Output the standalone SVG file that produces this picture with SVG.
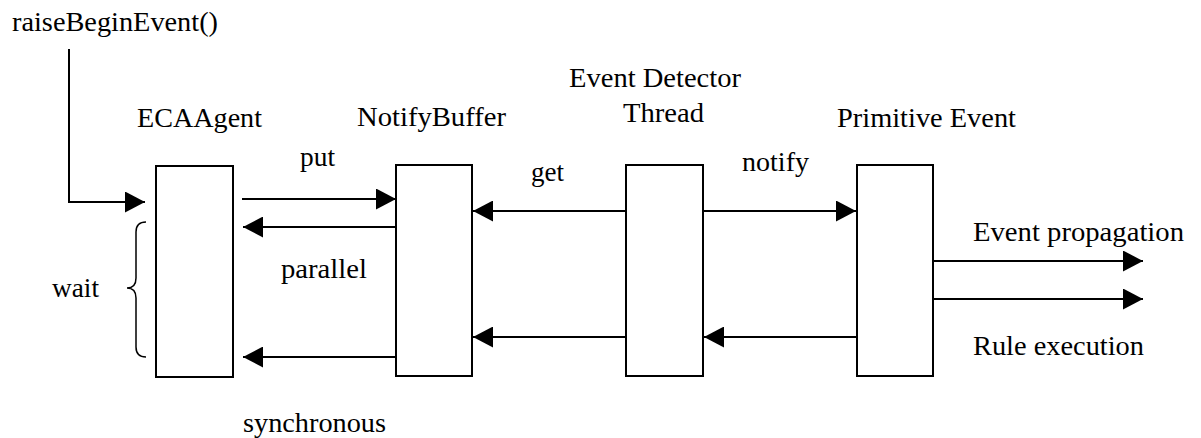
<svg xmlns="http://www.w3.org/2000/svg" width="1201" height="438" viewBox="0 0 1201 438">
<style>
  .lbl { font-family: 'Liberation Serif', 'Times New Roman', serif; font-size: 28px; fill: #000; }
  .box { fill: #fff; stroke: #000; stroke-width: 2; }
  .conn { fill: none; stroke: #000; stroke-width: 2; }
  .brace { fill: none; stroke: #000; stroke-width: 1.5; }
</style>
<defs>
  <marker id="arrow" markerUnits="userSpaceOnUse" markerWidth="20" markerHeight="21" refX="20" refY="10.5" orient="auto">
    <path d="M0,0 L20,10.5 L0,21 Z" fill="#000"/>
  </marker>
</defs>
<rect width="1201" height="438" fill="#fff"/>

<g id="node-ecaagent">
  <rect class="box" x="156" y="166" width="77" height="211"/>
  <text class="lbl" x="137" y="127" textLength="125" lengthAdjust="spacingAndGlyphs">ECAAgent</text>
</g>
<g id="node-notifybuffer">
  <rect class="box" x="396" y="165" width="76" height="211"/>
  <text class="lbl" x="357" y="126" textLength="149" lengthAdjust="spacingAndGlyphs">NotifyBuffer</text>
</g>
<g id="node-eventdetector">
  <rect class="box" x="626" y="165" width="77" height="211"/>
  <text class="lbl" x="569" y="87" textLength="172" lengthAdjust="spacingAndGlyphs">Event Detector</text>
  <text class="lbl" x="623" y="122" textLength="81" lengthAdjust="spacingAndGlyphs">Thread</text>
</g>
<g id="node-primitiveevent">
  <rect class="box" x="857" y="165" width="76" height="211"/>
  <text class="lbl" x="837" y="127" textLength="179" lengthAdjust="spacingAndGlyphs">Primitive Event</text>
</g>

<g id="connectors">
  <polyline class="conn" points="69,49 69,202 145,202" marker-end="url(#arrow)"/>
  <line class="conn" x1="242" y1="199" x2="396" y2="199" marker-end="url(#arrow)"/>
  <line class="conn" x1="396" y1="227" x2="243" y2="227" marker-end="url(#arrow)"/>
  <line class="conn" x1="396" y1="357" x2="243" y2="357" marker-end="url(#arrow)"/>
  <line class="conn" x1="626" y1="211" x2="473" y2="211" marker-end="url(#arrow)"/>
  <line class="conn" x1="703" y1="211" x2="856" y2="211" marker-end="url(#arrow)"/>
  <line class="conn" x1="626" y1="337" x2="473" y2="337" marker-end="url(#arrow)"/>
  <line class="conn" x1="857" y1="337" x2="704" y2="337" marker-end="url(#arrow)"/>
  <line class="conn" x1="933" y1="261" x2="1143" y2="261" marker-end="url(#arrow)"/>
  <line class="conn" x1="933" y1="299" x2="1143" y2="299" marker-end="url(#arrow)"/>
  <path class="brace" d="M146,222 Q136,222 136,232 L136,278 Q136,288 127,288 Q136,288 136,298 L136,347 Q136,357 146,357"/>
</g>

<g id="labels">
  <text class="lbl" x="12" y="31" textLength="206" lengthAdjust="spacingAndGlyphs">raiseBeginEvent()</text>
  <text class="lbl" x="300" y="166" textLength="35" lengthAdjust="spacingAndGlyphs">put</text>
  <text class="lbl" x="281" y="278" textLength="86" lengthAdjust="spacingAndGlyphs">parallel</text>
  <text class="lbl" x="243" y="432" textLength="143" lengthAdjust="spacingAndGlyphs">synchronous</text>
  <text class="lbl" x="531" y="181" textLength="33" lengthAdjust="spacingAndGlyphs">get</text>
  <text class="lbl" x="742" y="171" textLength="67" lengthAdjust="spacingAndGlyphs">notify</text>
  <text class="lbl" x="973" y="241" textLength="211" lengthAdjust="spacingAndGlyphs">Event propagation</text>
  <text class="lbl" x="973" y="355" textLength="171" lengthAdjust="spacingAndGlyphs">Rule execution</text>
  <text class="lbl" x="52" y="297" textLength="47" lengthAdjust="spacingAndGlyphs">wait</text>
</g>
</svg>
